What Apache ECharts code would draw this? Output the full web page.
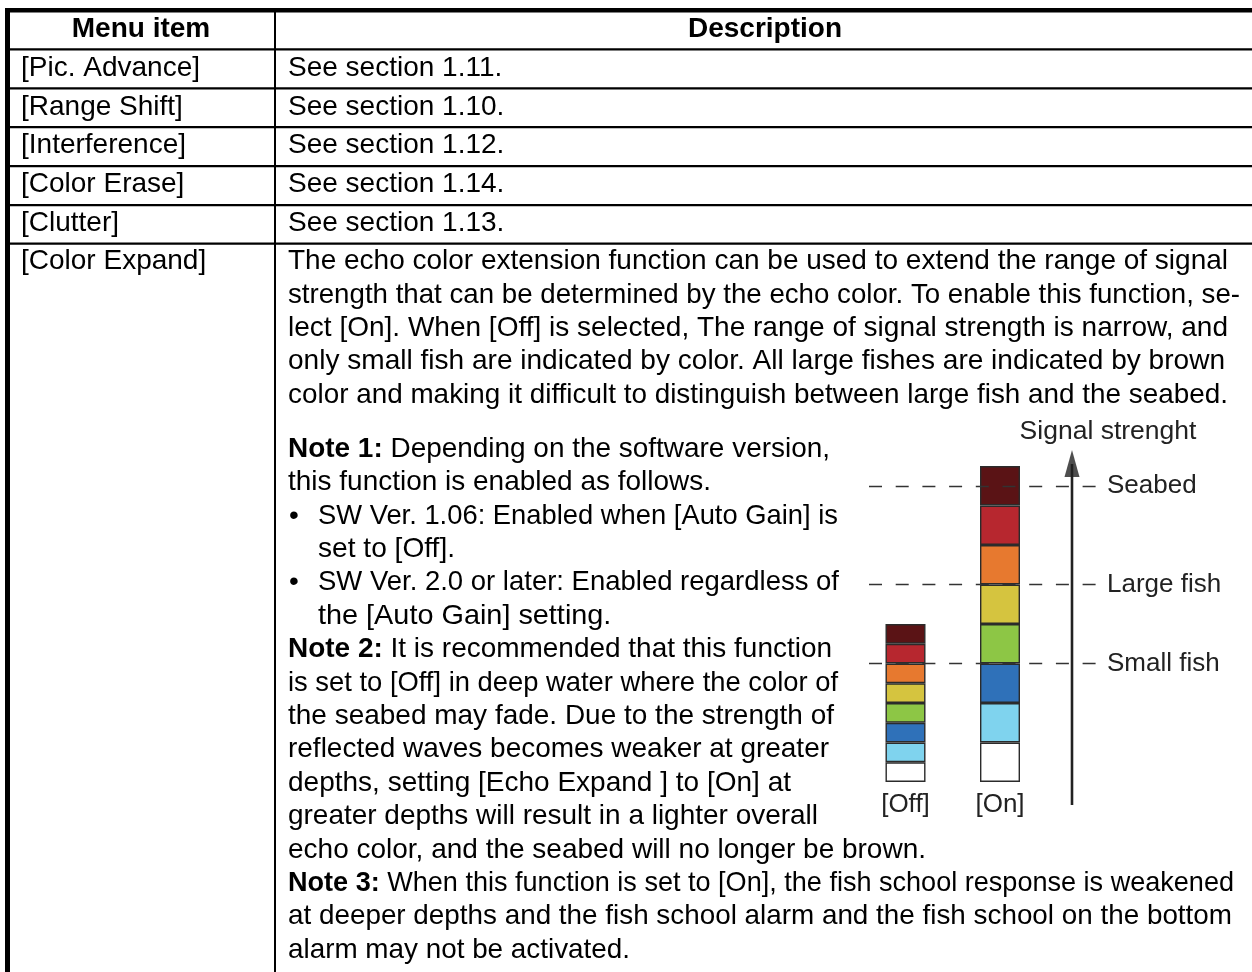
<!DOCTYPE html>
<html>
<head>
<meta charset="utf-8">
<style>html,body{margin:0;padding:0;background:#fff;}#c{width:1252px;height:972px;}</style>
<script src="https://cdn.jsdelivr.net/npm/echarts@6/dist/echarts.min.js"></script>
</head>
<body>
<div id="c"></div>
<script>
// ---- data ----
const categories = ['[Off]', '[On]'];
const echoLevels = ['none', 'weak', 'blue', 'green', 'yellow', 'orange', 'red', 'seabed'];
const offSteps = [1, 1, 1, 1, 1, 1, 1, 1];
const onSteps = [2, 2, 2, 2, 2, 2, 2, 2];
const thresholdNames = ['Seabed', 'Large fish', 'Small fish'];
const thresholdValues = [15, 10, 6];
const arrowRange = [-1.16, 16.1];
const axisTitle = 'Signal strenght';

const headerCells = ['Menu item', 'Description'];
const menuItems = ['[Pic. Advance]', '[Range Shift]', '[Interference]', '[Color Erase]', '[Clutter]', '[Color Expand]'];
const shortDescriptions = ['See section 1.11.', 'See section 1.10.', 'See section 1.12.', 'See section 1.14.', 'See section 1.13.'];
const paragraphLines = [
  'The echo color extension function can be used to extend the range of signal',
  'strength that can be determined by the echo color. To enable this function, se-',
  'lect [On]. When [Off] is selected, The range of signal strength is narrow, and',
  'only small fish are indicated by color. All large fishes are indicated by brown',
  'color and making it difficult to distinguish between large fish and the seabed.'
];
// [bold lead, text, indent kind] : 0 = normal, 1 = bullet, 2 = bullet continuation
const noteLines = [
  ['Note 1:', ' Depending on the software version,', 0],
  ['', 'this function is enabled as follows.', 0],
  ['', 'SW Ver. 1.06: Enabled when [Auto Gain] is', 1],
  ['', 'set to [Off].', 2],
  ['', 'SW Ver. 2.0 or later: Enabled regardless of', 1],
  ['', 'the [Auto Gain] setting.', 2],
  ['Note 2:', ' It is recommended that this function', 0],
  ['', 'is set to [Off] in deep water where the color of', 0],
  ['', 'the seabed may fade. Due to the strength of', 0],
  ['', 'reflected waves becomes weaker at greater', 0],
  ['', 'depths, setting [Echo Expand ] to [On] at', 0],
  ['', 'greater depths will result in a lighter overall', 0],
  ['', 'echo color, and the seabed will no longer be brown.', 0],
  ['Note 3:', ' When this function is set to [On], the fish school response is weakened', 0],
  ['', 'at deeper depths and the fish school alarm and the fish school on the bottom', 0],
  ['', 'alarm may not be activated.', 0]
];

// ---- layout / styles ----
const paraRight = [1228, 1240, 1228, 1225, 1228];
const noteRight = [830, 711, 838, 455, 839, 630, 832, 838, 834, 829, 791, 818, 926, 1234, 1232, 630];
const levelColors = ['#ffffff', '#7fd3ee', '#2f71b9', '#8dc645', '#d5c43f', '#e7792f', '#b7272f', '#5a1315'];
const FONT = '"Liberation Sans", Arial, Helvetica, sans-serif';
const FS = 28;
const CHART_FS = 26;

const mctx = document.createElement('canvas').getContext('2d');
function measure(str, bold) {
  mctx.font = (bold ? 'bold ' : '') + FS + 'px ' + FONT;
  return mctx.measureText(str).width;
}

const graphics = [];
function rect(x, y, w, h) {
  graphics.push({ type: 'rect', silent: true, shape: { x, y, width: w, height: h }, style: { fill: '#000' } });
}
function text(str, x, y, opts, scaleX) {
  graphics.push({
    type: 'text', silent: true, x, y, scaleX: scaleX || 1,
    style: Object.assign({
      text: str, fontSize: FS, fontFamily: FONT, fill: '#000',
      align: 'left', verticalAlign: 'middle',
      rich: { b: { fontWeight: 'bold', fontSize: FS, fontFamily: FONT, fill: '#000' } }
    }, opts || {})
  });
}
function fitScale(width, target) {
  const s = target / width;
  return Math.max(0.95, Math.min(1.03, s));
}

// table frame
rect(5, 8, 1247, 4.5);
rect(5, 8, 5, 964);
rect(274, 8, 2, 964);
const rowLines = [48.3, 87.3, 126.1, 165, 204, 242.6];
rowLines.forEach(y => rect(5, y, 1247, 2.2));

const DY = 1.5;
// header
text(headerCells[0], 141, 28 + DY, { align: 'center', fontWeight: 'bold' });
text(headerCells[1], 765, 28 + DY, { align: 'center', fontWeight: 'bold' });

const rowCenters = [67, 105.5, 144, 183, 221.5, 260];
menuItems.forEach((m, i) => text(m, 21, rowCenters[i] + DY));
shortDescriptions.forEach((d, i) => text(d, 288, rowCenters[i] + DY));

const TX = 288, lineH = 33.4, paraY0 = 260;
paragraphLines.forEach((l, i) => {
  const w = measure(l, false);
  text(l, TX, paraY0 + i * lineH + DY, null, fitScale(w, paraRight[i] - TX));
});

const noteY0 = 447.5;
noteLines.forEach((nl, i) => {
  const y = noteY0 + i * lineH + DY;
  const x = nl[2] === 0 ? TX : 318;
  if (nl[2] === 1) text('\u2022', 289, y);
  const w = measure(nl[0], true) + measure(nl[1], false);
  const str = nl[0] ? '{b|' + nl[0] + '}' + nl[1] : nl[1];
  text(str, x, y, null, fitScale(w, noteRight[i] - x));
});

// chart axis title
text(axisTitle, 1108, 430 + DY, { align: 'center', fill: '#222', fontSize: 26.5 });

// ---- chart ----
const barSeries = echoLevels.map((lv, i) => ({
  name: lv,
  type: 'bar',
  stack: 'echo',
  xAxisIndex: 0,
  yAxisIndex: 0,
  barWidth: 40,
  silent: true,
  data: [offSteps[i], onSteps[i]],
  itemStyle: { color: levelColors[i], borderColor: '#2b2b2b', borderWidth: 1.4 }
}));

const ARROW_X = 203;
const option = {
  animation: false,
  backgroundColor: '#fff',
  graphic: graphics,
  grid: [
    { left: 858.25, width: 189, top: 466, height: 316 },
    { left: 869, width: 228, top: 426.5, height: 395 }
  ],
  xAxis: [
    { gridIndex: 0, type: 'category', data: categories,
      axisLine: { show: false }, axisTick: { show: false },
      axisLabel: { margin: 10, fontSize: CHART_FS, fontFamily: FONT, color: '#222' } },
    { gridIndex: 1, type: 'value', min: 0, max: 228, show: false }
  ],
  yAxis: [
    { gridIndex: 0, type: 'value', min: 0, max: 16, show: false },
    { gridIndex: 1, type: 'value', min: -2, max: 18, show: false }
  ],
  series: barSeries.concat([
    {
      type: 'line', xAxisIndex: 1, yAxisIndex: 1, silent: true, clip: false,
      symbol: 'none',
      data: [[ARROW_X, arrowRange[0]], [ARROW_X, arrowRange[1]]],
      lineStyle: { color: '#222', width: 2.6 },
      markLine: {
        silent: true, symbol: 'none',
        lineStyle: { color: '#333', width: 1.4, type: [13, 13.7] },
        label: { show: true, position: 'end', distance: 10, fontSize: CHART_FS, fontFamily: FONT, color: '#222',
          formatter: p => p.name },
        data: thresholdNames.map((n, i) => ({ name: n, yAxis: thresholdValues[i] }))
      },
      z: 1
    },
    {
      type: 'scatter', xAxisIndex: 1, yAxisIndex: 1, silent: true, clip: false,
      symbol: 'triangle', symbolSize: [15, 27],
      data: [[ARROW_X, 16.13]],
      itemStyle: { color: '#222' }
    }
  ])
};

const chart = echarts.init(document.getElementById('c'), null, { renderer: 'canvas' });
chart.setOption(option);
</script>
</body>
</html>
